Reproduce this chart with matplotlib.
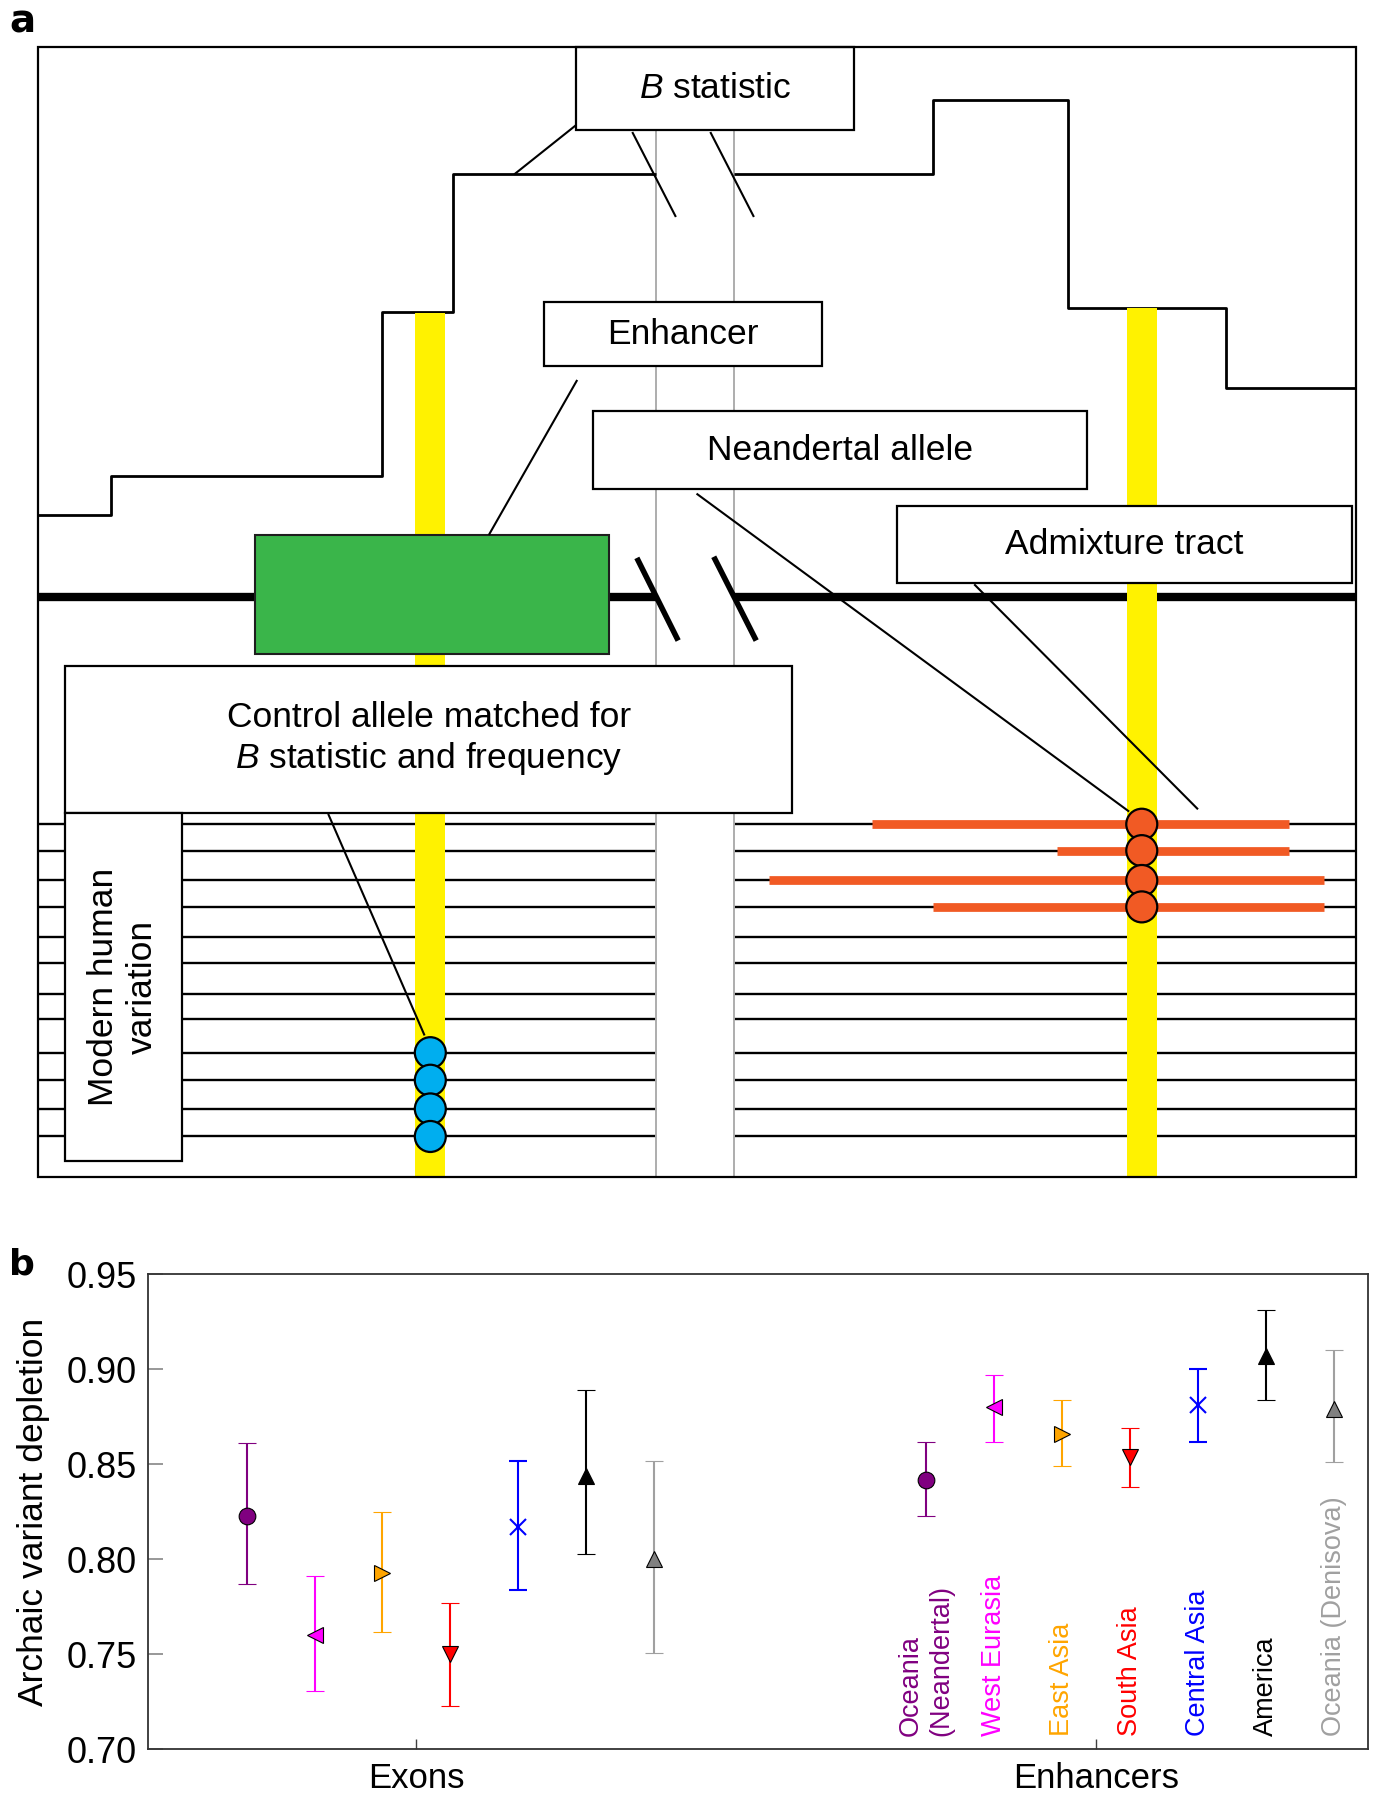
import matplotlib
matplotlib.use("Agg")
import matplotlib.pyplot as plt
from matplotlib.patches import Rectangle, Circle

plt.rcParams["font.family"] = ["Liberation Sans", "DejaVu Sans"]
plt.rcParams["mathtext.fontset"] = "custom"
plt.rcParams["mathtext.rm"] = "Liberation Sans"
plt.rcParams["mathtext.it"] = "Liberation Sans:italic"

# ---- panel b: values ----
POPS = ["Oceania\n(Neandertal)", "West Eurasia", "East Asia", "South Asia",
        "Central Asia", "America", "Oceania (Denisova)"]
COLORS = ["#800080", "#FF00FF", "#FFA500", "#FF0000", "#0000FF", "#000000", "#808080"]
BAR_COLORS = ["#800080", "#FF00FF", "#FFA500", "#FF0000", "#0000FF", "#000000", "#A0A0A0"]
LABEL_COLORS = ["#800080", "#FF00FF", "#FFA500", "#FF0000", "#0000FF", "#000000", "#A0A0A0"]
MARKERS = ["o", "<", ">", "v", "x", "^", "^"]
GROUPS = ["Exons", "Enhancers"]
EXON_MEAN = [0.823, 0.760, 0.793, 0.750, 0.817, 0.844, 0.800]
EXON_LO = [0.787, 0.731, 0.762, 0.723, 0.784, 0.803, 0.751]
EXON_HI = [0.861, 0.791, 0.825, 0.777, 0.852, 0.889, 0.852]
ENH_MEAN = [0.842, 0.880, 0.866, 0.854, 0.881, 0.907, 0.879]
ENH_LO = [0.823, 0.862, 0.849, 0.838, 0.862, 0.884, 0.851]
ENH_HI = [0.862, 0.897, 0.884, 0.869, 0.900, 0.931, 0.910]
YTICKS = [0.70, 0.75, 0.80, 0.85, 0.90, 0.95]

# ---- panel a: schematic, in reference pixels of a 1200 x 1568 canvas ----
FRAME = (33, 41, 1182, 1025)
GAP = (572, 640)                      # the two grey cut lines
B_STEP_LEFT = [(33, 449), (97, 449), (97, 415), (333, 415), (333, 272),
               (395, 272), (395, 152), (572, 152)]
B_STEP_RIGHT = [(640, 152), (813, 152), (813, 87), (931, 87), (931, 268),
                (1068, 268), (1068, 338), (1182, 338)]
CHROM_Y = 520
HAP_Y = [718, 741, 767, 790, 816, 839, 866, 888, 917, 941, 966, 990]
TRACTS = [(760, 1123), (921, 1123), (670, 1154), (813, 1154)]   # top 4 haplotypes
CONTROL_ROWS = [8, 9, 10, 11]
ARCHAIC_ROWS = [0, 1, 2, 3]
YELLOW = [(362, 273), (982, 268)]     # x left, y top
ENHANCER = (222, 466, 531, 570)


def box(ax, x0, y0, x1, y1, text=None, z=5, **kw):
    ax.add_patch(Rectangle((x0, y0), x1 - x0, y1 - y0, facecolor="white",
                           edgecolor="black", lw=1.6, zorder=z))
    if text:
        ax.text((x0 + x1) / 2, (y0 + y1) / 2, text, ha="center", va="center",
                fontsize=25.5, zorder=z + 0.1, **kw)


def line(ax, pts, lw=1.5, color="black", z=5, **kw):
    xs, ys = zip(*pts)
    ax.plot(xs, ys, color=color, lw=lw, zorder=z, solid_capstyle="butt", **kw)


def panel_a(ax):
    x0, y0, x1, y1 = FRAME
    # B statistic profile
    line(ax, B_STEP_LEFT, lw=2.0, z=2)
    line(ax, B_STEP_RIGHT, lw=2.0, z=2)
    # grey cut lines
    for gx in GAP:
        line(ax, [(gx, 113), (gx, y1)], lw=1.4, color="#ADADAD", z=1.5)
    # chromosome
    line(ax, [(x0, CHROM_Y), (GAP[0], CHROM_Y)], lw=6, z=2)
    line(ax, [(GAP[1], CHROM_Y), (x1, CHROM_Y)], lw=6, z=2)
    # haplotypes
    for hy in HAP_Y:
        line(ax, [(x0, hy), (GAP[0], hy)], lw=1.7, z=1)
        line(ax, [(GAP[1], hy), (x1, hy)], lw=1.7, z=1)
    for (tx0, tx1), row in zip(TRACTS, ARCHAIC_ROWS):
        line(ax, [(tx0, HAP_Y[row]), (tx1, HAP_Y[row])], lw=6.3, color="#F15A24", z=2)
    # yellow site columns
    for yx, yt in YELLOW:
        ax.add_patch(Rectangle((yx, yt), 26, y1 - yt, facecolor="#FFF200",
                               edgecolor="none", zorder=3))
    # enhancer
    ex0, ey0, ex1, ey1 = ENHANCER
    ax.add_patch(Rectangle((ex0, ey0), ex1 - ex0, ey1 - ey0, facecolor="#3AB54A",
                           edgecolor="#1E1E1E", lw=1.5, zorder=4))
    # break marks
    line(ax, [(551, 115), (589, 189)], lw=1.5)
    line(ax, [(619, 115), (657, 189)], lw=1.5)
    line(ax, [(555, 486), (591, 558)], lw=4)
    line(ax, [(622, 485), (659, 558)], lw=4)
    # label boxes
    box(ax, 502, 41, 744, 113, r"$\mathit{B}$ statistic")
    box(ax, 474, 263, 716, 319, "Enhancer")
    box(ax, 517, 358, 947, 426, "Neandertal allele")
    box(ax, 782, 441, 1178, 508, "Admixture tract")
    box(ax, 57, 580, 690, 708,
        "Control allele matched for\n" + r"$\mathit{B}$ statistic and frequency")
    box(ax, 57, 708, 159, 1011)
    ax.text(107, 860, "Modern human\nvariation", rotation=90, ha="center",
            va="center", fontsize=25.5, multialignment="center", zorder=5.2)
    # callout lines
    line(ax, [(502, 109), (448, 152)], z=5.5)
    line(ax, [(503, 331), (426, 466)], z=5.5)
    line(ax, [(607, 430), (984, 707)], z=5.5)
    line(ax, [(849, 509), (1044, 705)], z=5.5)
    line(ax, [(286, 709), (370, 902)], z=5.5)
    # alleles
    for row in CONTROL_ROWS:
        ax.add_patch(Circle((375, HAP_Y[row]), 13.5, facecolor="#00AEEF",
                            edgecolor="black", lw=1.6, zorder=6))
    for row in ARCHAIC_ROWS:
        ax.add_patch(Circle((995, HAP_Y[row]), 13.5, facecolor="#F15A24",
                            edgecolor="black", lw=1.6, zorder=6))
    # frame
    ax.add_patch(Rectangle((x0, y0), x1 - x0, y1 - y0, facecolor="none",
                           edgecolor="black", lw=1.6, zorder=7))
    ax.text(8, 28, "a", fontsize=28, fontweight="bold", family="DejaVu Sans",
            va="baseline")
    ax.text(8, 1110, "b", fontsize=26, fontweight="bold", family="DejaVu Sans",
            va="baseline")


def panel_b(axb):
    groups = [(0, EXON_MEAN, EXON_LO, EXON_HI), (1, ENH_MEAN, ENH_LO, ENH_HI)]
    for i in range(len(POPS)):
        dx = (i - 2.5) * 0.1
        mk = MARKERS[i]
        if mk == "x":
            kw = dict(mec=COLORS[i], mew=1.5, ms=11)
        else:
            kw = dict(mfc=COLORS[i], mec="black", mew=0.8, ms=12)
        for gx, mean, lo, hi in groups:
            axb.errorbar([gx + dx], [mean[i]],
                         yerr=[[mean[i] - lo[i]], [hi[i] - mean[i]]],
                         fmt=mk, ecolor=BAR_COLORS[i], elinewidth=1.5,
                         capsize=6.5, capthick=1.5, zorder=3, **kw)
        axb.text(1 + dx, 0.707, POPS[i], rotation=90, ha="center", va="bottom",
                 color=LABEL_COLORS[i], fontsize=19.5, multialignment="left")
    axb.set_xlim(-0.395, 1.40)
    axb.set_ylim(0.70, 0.95)
    axb.set_xticks([0, 1])
    axb.set_xticklabels(GROUPS)
    axb.set_yticks(YTICKS)
    axb.set_yticklabels([f"{t:.2f}" for t in YTICKS])
    axb.set_ylabel("Archaic variant depletion", fontsize=25.5, labelpad=12)
    axb.tick_params(axis="y", direction="in", length=11, width=1.3,
                    color="#909090", labelsize=26, pad=8)
    axb.tick_params(axis="x", direction="in", length=7.5, width=1.0,
                    color="#404040", labelsize=25, pad=9)
    for sp in axb.spines.values():
        sp.set_color("#333333")
        sp.set_linewidth(1.3)


def main() -> None:
    fig = plt.figure(figsize=(13.77, 18), dpi=100)
    ax = fig.add_axes([0, 0, 1, 1])
    ax.set_xlim(0, 1200)
    ax.set_ylim(1568, 0)
    ax.axis("off")
    panel_a(ax)

    axb = fig.add_axes([129 / 1200, 1 - 1524 / 1568, (1192 - 129) / 1200,
                        (1524 - 1110) / 1568])
    panel_b(axb)
    fig.savefig("out.png", dpi=100)


if __name__ == "__main__":
    main()
